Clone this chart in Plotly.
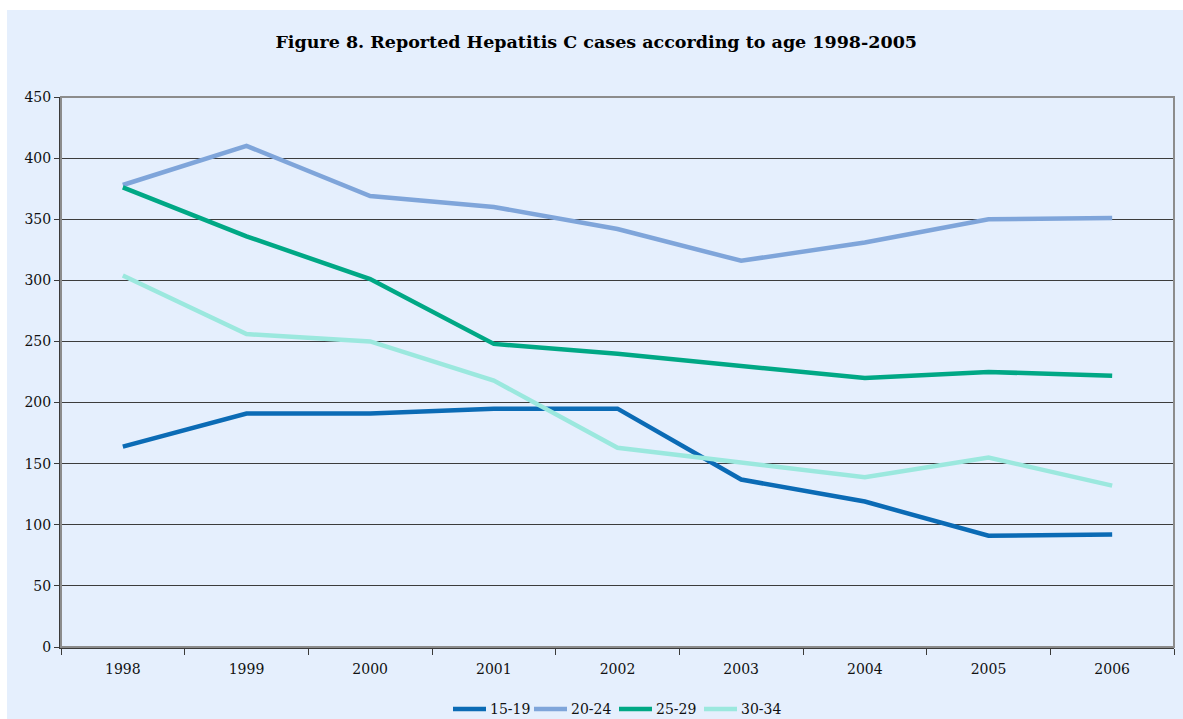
import plotly.graph_objects as go

years = ["1998", "1999", "2000", "2001", "2002", "2003", "2004", "2005", "2006"]
age_15_19 = [164, 191, 191, 195, 195, 137, 119, 91, 92]
age_20_24 = [378, 410, 369, 360, 342, 316, 331, 350, 351]
age_25_29 = [376, 336, 301, 248, 240, 230, 220, 225, 222]
age_30_34 = [304, 256, 250, 218, 163, 151, 139, 155, 132]

series = [
    ("15-19", age_15_19, "#0B6BB5"),
    ("20-24", age_20_24, "#7FA5DA"),
    ("25-29", age_25_29, "#00A885"),
    ("30-34", age_30_34, "#9BE8DE"),
]

FONT = "DejaVu Serif"
BG = "#E5EFFD"

W, H = 1183, 719
ml, mr, mt, mb = 61, 9, 97, 72
pw, ph = W - ml - mr, H - mt - mb


def px_to_paper_x(px):
    return (px - ml) / pw


def px_to_paper_y(py):
    return (H - mb - py) / ph


fig = go.Figure()
for name, vals, color in series:
    fig.add_trace(go.Scatter(
        x=years, y=vals, name=name, mode="lines",
        line=dict(color=color, width=4.5),
        showlegend=False,
    ))

shapes = [
    # light blue page panel behind the whole chart
    dict(type="rect", xref="paper", yref="paper", layer="below",
         x0=px_to_paper_x(7), x1=px_to_paper_x(W + 5),
         y0=px_to_paper_y(H + 5), y1=px_to_paper_y(10),
         fillcolor=BG, line=dict(width=0)),
    # plot frame (top and right edges)
    dict(type="rect", xref="paper", yref="paper", layer="above",
         x0=0, x1=1, y0=0, y1=1,
         line=dict(color="#8C8C8C", width=2), fillcolor="rgba(0,0,0,0)"),
]
annotations = []

# horizontal key under the x axis: short line swatch followed by its label
key_y = px_to_paper_y(709)
key_x = 453
swatch_len, text_gap = 33, 2
label_widths = [40, 44, 44, 44]
for (name, _, color), tw in zip(series, label_widths):
    shapes.append(dict(
        type="line", xref="paper", yref="paper", layer="above",
        x0=px_to_paper_x(key_x), x1=px_to_paper_x(key_x + swatch_len),
        y0=key_y, y1=key_y,
        line=dict(color=color, width=4.5),
    ))
    annotations.append(dict(
        text=name, xref="paper", yref="paper",
        x=px_to_paper_x(key_x + swatch_len + text_gap), y=key_y,
        xanchor="left", yanchor="middle", showarrow=False,
        font=dict(family=FONT, size=14, color="#111"),
    ))
    key_x += swatch_len + text_gap + tw + 6

fig.update_layout(
    width=W, height=H,
    margin=dict(l=ml, r=mr, t=mt, b=mb, pad=0),
    paper_bgcolor="white",
    plot_bgcolor=BG,
    font=dict(family=FONT, size=14, color="#111"),
    title=dict(
        text="<b>Figure 8. Reported Hepatitis C cases according to age 1998-2005</b>",
        x=0.504, xref="container", xanchor="center",
        y=1 - 42 / H, yref="container", yanchor="middle",
        font=dict(family=FONT, size=17.5, color="#000"),
    ),
    showlegend=False,
    shapes=shapes,
    annotations=annotations,
    xaxis=dict(
        type="category", tickson="boundaries",
        showgrid=False, zeroline=False,
        showline=True, linecolor="#3A3A3A", linewidth=2,
        ticks="outside", ticklen=6, tickcolor="#3A3A3A", tickwidth=1,
        ticklabelstandoff=8,
        tickfont=dict(family=FONT, size=14, color="#111"),
        range=[-0.5, 8.5],
    ),
    yaxis=dict(
        range=[0, 450], dtick=50, tick0=0,
        showgrid=True, gridcolor="#3C3C3C", gridwidth=1,
        zeroline=False,
        showline=True, linecolor="#3A3A3A", linewidth=2,
        ticks="outside", ticklen=5, tickcolor="#3A3A3A", tickwidth=1,
        tickfont=dict(family=FONT, size=14, color="#111"),
    ),
)

fig.write_html("out.html")
